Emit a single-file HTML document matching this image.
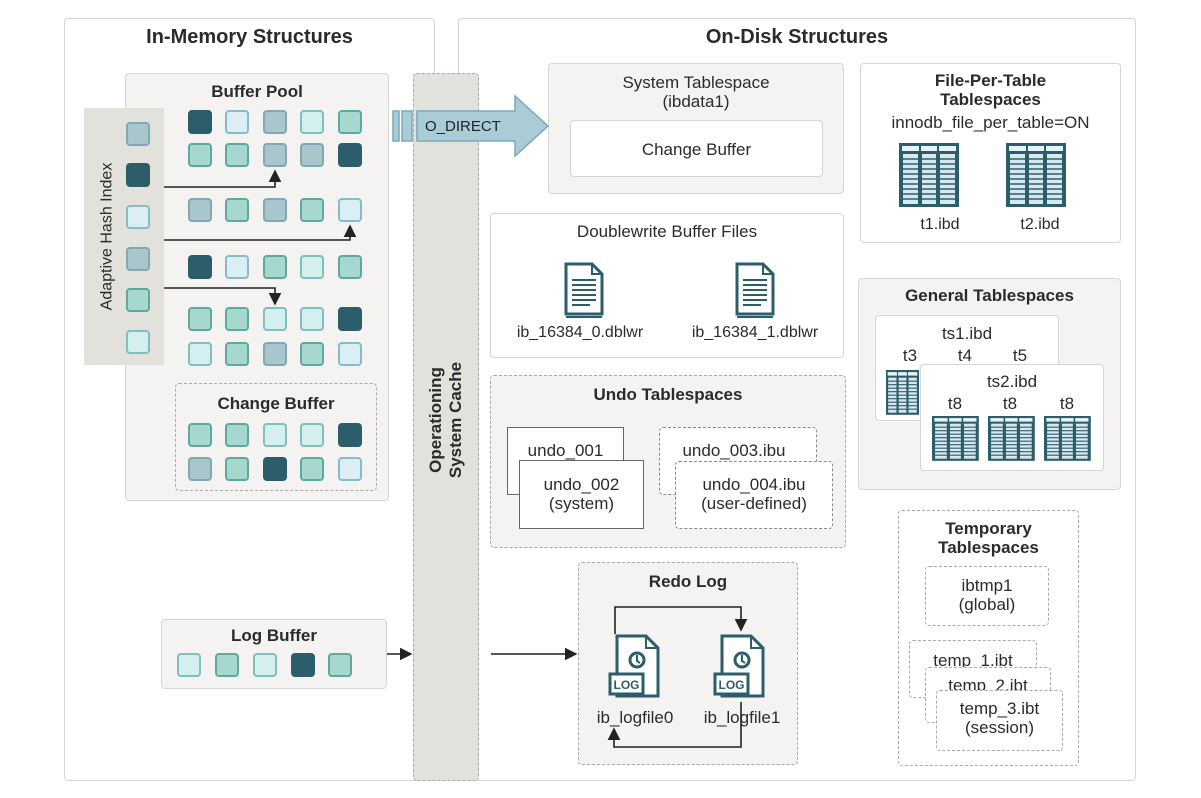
<!DOCTYPE html>
<html><head><meta charset="utf-8"><style>
body{margin:0;width:1201px;height:798px;background:#fff;position:relative;overflow:hidden;font-family:"Liberation Sans",sans-serif;color:#2b2b2b}
.b{position:absolute;box-sizing:border-box;border:1.5px solid #d8d6d2;border-radius:4px}
.g{background:#f4f3f1}.w{background:#fff}.d{border-style:dashed;border-color:#aaa}
.t{position:absolute;text-align:center;white-space:nowrap;font-size:16px;line-height:19px}
.h{font-weight:bold;font-size:17px}
.s{position:absolute;width:24px;height:24px;box-sizing:border-box;border-radius:4px;border:2px solid}
.D{background:#2c5d6b;border-color:#2c5d6b}.L{background:#daeef3;border-color:#86bcc7}
.G{background:#a9c6cd;border-color:#80a9b3}.T{background:#a6d8cf;border-color:#5ea99d}
.P{background:#d3eff0;border-color:#7fbfbd}
</style></head><body>
<div class="b w" style="left:64px;top:18px;width:371px;height:763px"></div>
<div class="b w" style="left:458px;top:18px;width:678px;height:763px"></div>
<div class="t h" style="left:64px;width:371px;top:28px;font-size:20px">In-Memory Structures</div>
<div class="t h" style="left:458px;width:678px;top:28px;font-size:20px">On-Disk Structures</div>

<div class="b g" style="left:125px;top:73px;width:264px;height:428px"></div>
<div class="t h" style="left:125px;width:264px;top:82px">Buffer Pool</div>
<div class="b" style="left:84px;top:108px;width:80px;height:257px;background:#e3e1dc;border-color:#e3e1dc;border-radius:0"></div>
<div class="t" style="left:27px;width:160px;top:227px;transform:rotate(-90deg);font-size:16px">Adaptive Hash Index</div>
<div class="b d" style="left:175px;top:383px;width:202px;height:108px"></div>
<div class="t h" style="left:175px;width:202px;top:394px">Change Buffer</div>

<div class="b d" style="left:413px;top:73px;width:66px;height:708px;background:#e3e1dc"></div>
<div class="t h" style="left:366px;width:160px;top:400px;transform:rotate(-90deg);line-height:20px">Operationing<br>System Cache</div>

<div class="b g" style="left:548px;top:63px;width:296px;height:131px"></div>
<div class="t h" style="left:548px;width:296px;top:73px;font-weight:normal;font-size:17px">System Tablespace<br>(ibdata1)</div>
<div class="b w" style="left:570px;top:120px;width:253px;height:57px"></div>
<div class="t" style="left:570px;width:253px;top:140px;font-size:17px">Change Buffer</div>

<div class="b w" style="left:860px;top:63px;width:261px;height:180px"></div>
<div class="t h" style="left:860px;width:261px;top:71px;line-height:19px">File-Per-Table<br>Tablespaces</div>
<div class="t" style="left:860px;width:261px;top:113px;font-size:17px">innodb_file_per_table=ON</div>
<div class="t" style="left:900px;width:80px;top:215px">t1.ibd</div>
<div class="t" style="left:1000px;width:80px;top:215px">t2.ibd</div>

<div class="b w" style="left:490px;top:213px;width:354px;height:145px"></div>
<div class="t" style="left:490px;width:354px;top:222px;font-size:17px">Doublewrite Buffer Files</div>
<div class="t" style="left:490px;width:180px;top:323px">ib_16384_0.dblwr</div>
<div class="t" style="left:665px;width:180px;top:323px">ib_16384_1.dblwr</div>

<div class="b d g" style="left:490px;top:375px;width:356px;height:173px"></div>
<div class="t h" style="left:490px;width:356px;top:385px">Undo Tablespaces</div>
<div class="b w" style="left:507px;top:427px;width:117px;height:68px;border-color:#666;border-radius:0"></div>
<div class="t" style="left:507px;width:117px;top:441px;font-size:17px">undo_001</div>
<div class="b w" style="left:519px;top:460px;width:125px;height:69px;border-color:#666;border-radius:0"></div>
<div class="t" style="left:519px;width:125px;top:475px;font-size:17px">undo_002<br>(system)</div>
<div class="b w d" style="left:659px;top:427px;width:158px;height:68px;border-color:#888"></div>
<div class="t" style="left:659px;width:150px;top:441px;font-size:17px">undo_003.ibu</div>
<div class="b w d" style="left:675px;top:461px;width:158px;height:68px;border-color:#888"></div>
<div class="t" style="left:675px;width:158px;top:475px;font-size:17px">undo_004.ibu<br>(user-defined)</div>

<div class="b g" style="left:858px;top:278px;width:263px;height:212px"></div>
<div class="t h" style="left:858px;width:263px;top:286px">General Tablespaces</div>
<div class="b w" style="left:875px;top:315px;width:184px;height:106px"></div>
<div class="t" style="left:875px;width:184px;top:324px;font-size:17px">ts1.ibd</div>
<div class="t" style="left:895px;width:30px;top:346px;font-size:17px">t3</div>
<div class="t" style="left:950px;width:30px;top:346px;font-size:17px">t4</div>
<div class="t" style="left:1005px;width:30px;top:346px;font-size:17px">t5</div>
<div class="b w" style="left:920px;top:364px;width:184px;height:107px"></div>
<div class="t" style="left:920px;width:184px;top:372px;font-size:17px">ts2.ibd</div>
<div class="t" style="left:940px;width:30px;top:394px;font-size:17px">t8</div>
<div class="t" style="left:995px;width:30px;top:394px;font-size:17px">t8</div>
<div class="t" style="left:1052px;width:30px;top:394px;font-size:17px">t8</div>

<div class="b w d" style="left:898px;top:510px;width:181px;height:256px"></div>
<div class="t h" style="left:898px;width:181px;top:519px;line-height:19px">Temporary<br>Tablespaces</div>
<div class="b w d" style="left:925px;top:566px;width:124px;height:60px"></div>
<div class="t" style="left:925px;width:124px;top:576px;font-size:17px">ibtmp1<br>(global)</div>
<div class="b w d" style="left:909px;top:640px;width:128px;height:58px"></div>
<div class="t" style="left:909px;width:128px;top:651px;font-size:17px">temp_1.ibt</div>
<div class="b w d" style="left:925px;top:667px;width:126px;height:56px"></div>
<div class="t" style="left:925px;width:126px;top:676px;font-size:17px">temp_2.ibt</div>
<div class="b w d" style="left:936px;top:690px;width:127px;height:61px"></div>
<div class="t" style="left:936px;width:127px;top:699px;font-size:17px">temp_3.ibt<br>(session)</div>

<div class="b d g" style="left:578px;top:562px;width:220px;height:203px"></div>
<div class="t h" style="left:578px;width:220px;top:572px">Redo Log</div>
<div class="t" style="left:585px;width:100px;top:708px;font-size:17px">ib_logfile0</div>
<div class="t" style="left:692px;width:100px;top:708px;font-size:17px">ib_logfile1</div>

<div class="b g" style="left:161px;top:619px;width:226px;height:70px"></div>
<div class="t h" style="left:161px;width:226px;top:626px">Log Buffer</div>

<div class="s D" style="left:188px;top:110px"></div><div class="s L" style="left:225px;top:110px"></div><div class="s G" style="left:263px;top:110px"></div><div class="s P" style="left:300px;top:110px"></div><div class="s T" style="left:338px;top:110px"></div>
<div class="s T" style="left:188px;top:143px"></div><div class="s T" style="left:225px;top:143px"></div><div class="s G" style="left:263px;top:143px"></div><div class="s G" style="left:300px;top:143px"></div><div class="s D" style="left:338px;top:143px"></div>
<div class="s G" style="left:188px;top:198px"></div><div class="s T" style="left:225px;top:198px"></div><div class="s G" style="left:263px;top:198px"></div><div class="s T" style="left:300px;top:198px"></div><div class="s L" style="left:338px;top:198px"></div>
<div class="s D" style="left:188px;top:255px"></div><div class="s L" style="left:225px;top:255px"></div><div class="s T" style="left:263px;top:255px"></div><div class="s P" style="left:300px;top:255px"></div><div class="s T" style="left:338px;top:255px"></div>
<div class="s T" style="left:188px;top:307px"></div><div class="s T" style="left:225px;top:307px"></div><div class="s P" style="left:263px;top:307px"></div><div class="s P" style="left:300px;top:307px"></div><div class="s D" style="left:338px;top:307px"></div>
<div class="s P" style="left:188px;top:342px"></div><div class="s T" style="left:225px;top:342px"></div><div class="s G" style="left:263px;top:342px"></div><div class="s T" style="left:300px;top:342px"></div><div class="s L" style="left:338px;top:342px"></div>
<div class="s T" style="left:188px;top:423px"></div><div class="s T" style="left:225px;top:423px"></div><div class="s P" style="left:263px;top:423px"></div><div class="s P" style="left:300px;top:423px"></div><div class="s D" style="left:338px;top:423px"></div>
<div class="s G" style="left:188px;top:457px"></div><div class="s T" style="left:225px;top:457px"></div><div class="s D" style="left:263px;top:457px"></div><div class="s T" style="left:300px;top:457px"></div><div class="s L" style="left:338px;top:457px"></div>
<div class="s G" style="left:126px;top:122px"></div><div class="s D" style="left:126px;top:163px"></div><div class="s L" style="left:126px;top:205px"></div><div class="s G" style="left:126px;top:247px"></div><div class="s T" style="left:126px;top:288px"></div><div class="s P" style="left:126px;top:330px"></div>
<div class="s P" style="left:177px;top:653px"></div><div class="s T" style="left:215px;top:653px"></div><div class="s P" style="left:253px;top:653px"></div><div class="s D" style="left:291px;top:653px"></div><div class="s T" style="left:328px;top:653px"></div>

<svg width="1201" height="798" style="position:absolute;left:0;top:0">
<defs><marker id="a" markerWidth="8" markerHeight="8" refX="7" refY="4" orient="auto"><path d="M0,0 L8,4 L0,8 z" fill="#222"/></marker>
<g id="tb"><rect x="0" y="0" width="60" height="64" fill="#2c5d6b"/><g fill="#e8f3f5"><rect x="3" y="3" width="17" height="5"/><rect x="22" y="3" width="16" height="5"/><rect x="40" y="3" width="17" height="5"/><rect x="4" y="11" width="15" height="50" fill="#d7e9ee"/><rect x="23" y="11" width="14" height="50" fill="#d7e9ee"/><rect x="41" y="11" width="15" height="50" fill="#d7e9ee"/></g><g stroke="#2c5d6b" stroke-width="1.6"><path d="M4 16H56M4 21H56M4 26H56M4 31H56M4 36H56M4 41H56M4 46H56M4 51H56M4 56H56"/></g></g>
<g id="doc"><path d="M2 2H28L38 12V52H2Z" fill="#fff" stroke="#2c5d6b" stroke-width="3"/><path d="M28 2V12H38" fill="none" stroke="#2c5d6b" stroke-width="2"/><path d="M8 18H32M8 23H32M8 28H32M8 33H32M8 38H32M8 43H26" stroke="#2c5d6b" stroke-width="2"/><path d="M2 55H38" stroke="#2c5d6b" stroke-width="2"/></g>
<g id="log"><path d="M7 2H36L48 14V62H7Z" fill="#fff" stroke="#2c5d6b" stroke-width="3"/><path d="M36 2V14H48" fill="none" stroke="#2c5d6b" stroke-width="2"/><circle cx="27" cy="26" r="7" fill="none" stroke="#2c5d6b" stroke-width="3"/><path d="M27 21V27L30 29" stroke="#2c5d6b" stroke-width="2" fill="none"/><rect x="0" y="40" width="33" height="20" fill="#fff" stroke="#2c5d6b" stroke-width="3"/><text x="16.5" y="55" font-family="Liberation Sans" font-size="12" font-weight="bold" fill="#2c5d6b" text-anchor="middle">LOG</text></g>
</defs>
<g fill="none" stroke="#222" stroke-width="1.6">
<path d="M164 187H275V171" marker-end="url(#a)"/><path d="M164 240H350V226" marker-end="url(#a)"/><path d="M164 288H275V304" marker-end="url(#a)"/>
<path d="M387 654H411" marker-end="url(#a)"/><path d="M491 654H576" marker-end="url(#a)"/>
<path d="M615 634V607H741V630" marker-end="url(#a)"/><path d="M741 702V747H614V729" marker-end="url(#a)"/>
</g>
<g fill="#a9ccd6" stroke="#7aaab8" stroke-width="1.5"><rect x="393" y="111" width="6" height="30"/><rect x="402" y="111" width="10" height="30"/><path d="M417 111H515V96L548 126L515 156V141H417Z"/></g>
<text x="425" y="131" font-family="Liberation Sans" font-size="15" fill="#222">O_DIRECT</text>
<use href="#tb" x="899" y="143"/><use href="#tb" x="1006" y="143"/>
<use href="#doc" x="564" y="262"/><use href="#doc" x="735" y="262"/>
<use href="#log" x="610" y="634"/><use href="#log" x="715" y="634"/>
<g transform="translate(886,370) scale(0.55,0.7)"><use href="#tb"/></g>
<use href="#tb" x="0" y="0" transform="translate(932,416) scale(0.78,0.7)"/>
<use href="#tb" transform="translate(988,416) scale(0.78,0.7)"/>
<use href="#tb" transform="translate(1044,416) scale(0.78,0.7)"/>
</svg>
</body></html>
